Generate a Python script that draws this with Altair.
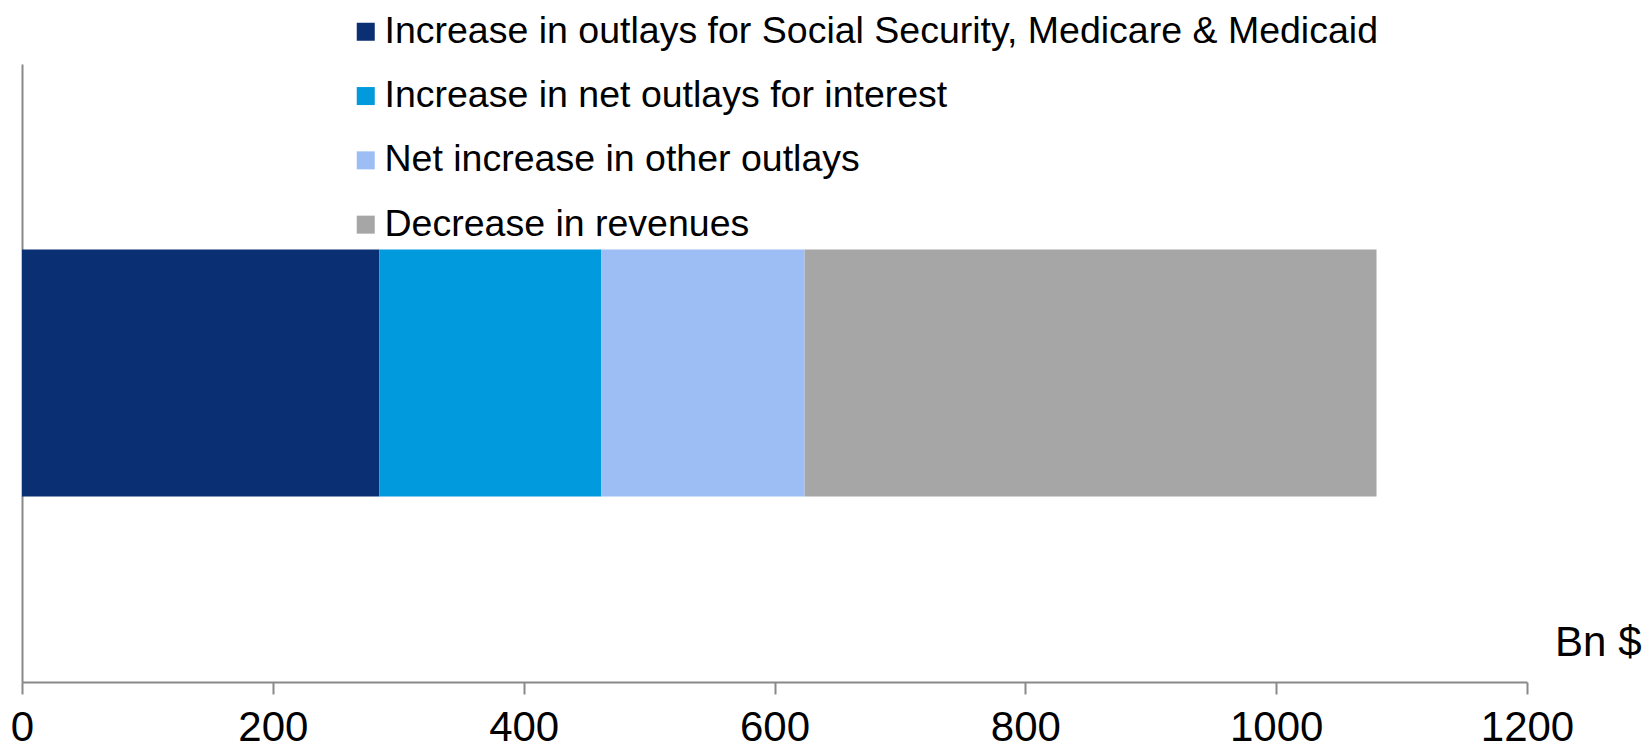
import altair as alt
import pandas as pd

categories = [
    "Increase in outlays for Social Security, Medicare & Medicaid",
    "Increase in net outlays for interest",
    "Net increase in other outlays",
    "Decrease in revenues",
]
values = [285, 177, 162, 456]
colors = ["#0A2F72", "#009ADD", "#9CBEF4", "#A6A6A6"]
x_ticks = [0, 200, 400, 600, 800, 1000, 1200]
unit_label = "Bn $"

df = pd.DataFrame({
    "category": categories,
    "value": values,
    "idx": list(range(len(categories))),
    "row": ["total"] * len(categories),
})

FONT = "Liberation Sans"
AXIS_GRAY = "#898989"

chart = alt.Chart(df).mark_bar(size=247).encode(
    x=alt.X(
        "value:Q",
        stack="zero",
        scale=alt.Scale(domain=[0, 1200], nice=False),
        axis=alt.Axis(
            values=x_ticks,
            format="d",
            grid=False,
            domainColor=AXIS_GRAY,
            domainWidth=2,
            tickColor=AXIS_GRAY,
            tickWidth=2,
            tickSize=12,
            labelFontSize=42,
            labelFont=FONT,
            labelColor="black",
            labelPadding=13,
            labelFlush=False,
            labelOverlap=False,
            title=unit_label,
            titleFont=FONT,
            titleFontSize=42,
            titleFontWeight="normal",
            titleColor="black",
            titleAlign="right",
            titleAnchor="start",
            titleBaseline="alphabetic",
            titleX=1619,
            titleY=-27,
        ),
    ),
    y=alt.Y(
        "row:N",
        axis=alt.Axis(
            labels=False,
            ticks=False,
            title=None,
            grid=False,
            domainColor=AXIS_GRAY,
            domainWidth=2,
        ),
    ),
    color=alt.Color(
        "category:N",
        scale=alt.Scale(domain=categories, range=colors),
        legend=alt.Legend(
            orient="none",
            legendX=325,
            legendY=-51,
            title=None,
            symbolType="square",
            symbolSize=324,
            symbolStrokeWidth=0,
            symbolOpacity=1,
            labelFontSize=37.5,
            labelFont=FONT,
            labelColor="black",
            labelOffset=0,
            labelLimit=2000,
            rowPadding=25.3,
            padding=0,
        ),
    ),
    order=alt.Order("idx:Q", sort="ascending"),
).properties(
    width=1505,
    height=618,
    padding={"left": 14, "top": 56, "right": 115, "bottom": 61},
    autosize=alt.AutoSizeParams(type="none"),
).configure_view(stroke=None)

chart.save("out.html", embed_options={"renderer": "svg", "actions": False})
